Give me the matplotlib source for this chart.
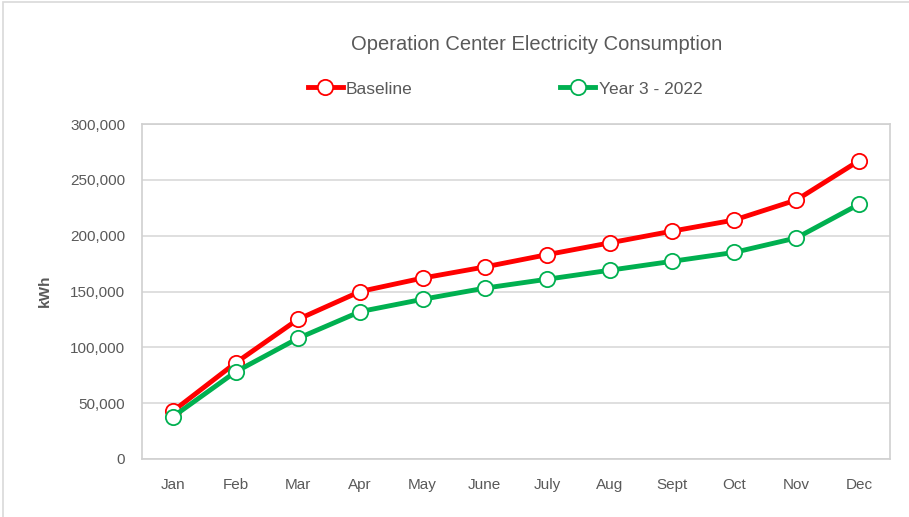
import matplotlib.pyplot as plt
from matplotlib.patches import Rectangle
from matplotlib.ticker import FuncFormatter

months = ['Jan', 'Feb', 'Mar', 'Apr', 'May', 'June', 'July', 'Aug', 'Sept', 'Oct', 'Nov', 'Dec']
baseline = [43000, 86000, 125000, 150000, 162000, 172000, 183000, 193500, 204000, 214000, 232000, 267000]
year3_2022 = [38000, 78000, 108000, 132000, 143000, 153000, 161000, 169000, 177000, 185000, 198000, 228000]

plt.rcParams['font.family'] = ['Liberation Sans', 'DejaVu Sans']
txt = '#595959'

fig = plt.figure(figsize=(9.09, 5.17), dpi=100)
W, H = 909, 517
ax = fig.add_axes([142 / W, 1 - 459 / H, 748 / W, 335 / H])

# outer chart border
fig.patches.append(Rectangle((3 / W, -0.1), 1.2, 1 - 2 / H + 0.1, transform=fig.transFigure,
                             fill=False, edgecolor='#d9d9d9', linewidth=1.2))

x = range(len(months))
ax.plot(x, baseline, color='#ff0000', lw=3.5, marker='o', ms=11,
        mfc='white', mec='#ff0000', mew=1.3, label='Baseline', zorder=3)
ax.plot(x, year3_2022, color='#00b050', lw=3.5, marker='o', ms=11,
        mfc='white', mec='#00b050', mew=1.3, label='Year 3 - 2022', zorder=3)

ax.set_xlim(-0.5, 11.5)
ax.set_ylim(0, 300000)
ax.set_yticks(range(0, 300001, 50000))
ax.yaxis.set_major_formatter(FuncFormatter(lambda v, p: f'{int(v):,}'))
ax.set_xticks(list(x))
ax.set_xticklabels(months)
ax.tick_params(length=0, colors=txt, labelsize=11)
ax.tick_params(axis='x', pad=14)
ax.tick_params(axis='y', pad=12)
ax.grid(axis='y', color='#d9d9d9', lw=1.2)
ax.set_axisbelow(True)
for s in ax.spines.values():
    s.set_color('#d0d0d0')
    s.set_linewidth(1.2)

fig.text(45 / W, 1 - 291 / H, 'kWh', rotation=90, ha='center', va='center',
         color=txt, fontsize=11, fontweight='bold')
fig.text(537 / W, 1 - 45 / H, 'Operation Center Electricity Consumption',
         ha='center', va='center', color=txt, fontsize=14.5)

fig.legend(loc='center', bbox_to_anchor=(505 / W, 1 - 89 / H), ncol=2, frameon=False,
           fontsize=12.5, labelcolor=txt, columnspacing=8.5, handlelength=2.0, handletextpad=0.2)

fig.savefig('out.png', dpi=100)
